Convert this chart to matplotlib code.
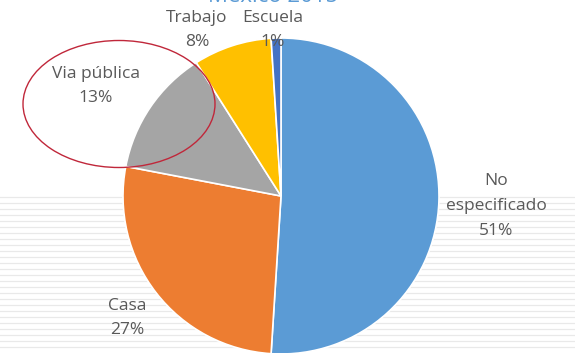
import matplotlib
matplotlib.use("Agg")
import matplotlib.pyplot as plt
from matplotlib.patches import Ellipse

categories = ["No\nespecificado", "Casa", "Via pública", "Trabajo", "Escuela"]
values = [51, 27, 13, 8, 1]
colors = ["#5B9BD5", "#ED7D31", "#A5A5A5", "#FFC000", "#4472C4"]
title = "México 2015"

W, H = 575, 353
fig = plt.figure(figsize=(W / 100, H / 100), dpi=100)
ax = fig.add_axes([0, 0, 1, 1])
ax.set_xlim(0, W)
ax.set_ylim(0, H)
ax.set_aspect("equal")
ax.axis("off")

# faint lined background
y = H - 197
while y > 0:
    ax.plot([0, W], [y, y], color="#e9e9e9", lw=0.9, zorder=0)
    y -= 6

cx, cy, r = 281, H - 196, 158
ax.pie(values, colors=colors, startangle=90, counterclock=False,
       center=(cx, cy), radius=r, frame=True,
       wedgeprops=dict(edgecolor="white", linewidth=1.2), normalize=True)
ax.set_xlim(0, W)
ax.set_ylim(0, H)
ax.axis("off")

label_pos = [(496, 206), (127, 318), (96, 86), (197, 30), (273, 30)]
txtc = "#595959"
for lab, v, (x, yy) in zip(categories, values, label_pos):
    ax.text(x, H - yy, f"{lab}\n{v}%", ha="center", va="center",
            fontsize=12.5, color=txtc, family="Open Sans", linespacing=1.75,
            zorder=5)

ax.add_patch(Ellipse((119, H - 104), 192, 127, fill=False,
                     edgecolor="#C0273A", lw=1.0, zorder=6))

ax.text(273, H - 2, title, ha="center", va="baseline", fontsize=16,
        color="#5B9BD5", family="Open Sans", clip_on=False)

fig.savefig("out.png", dpi=100)
